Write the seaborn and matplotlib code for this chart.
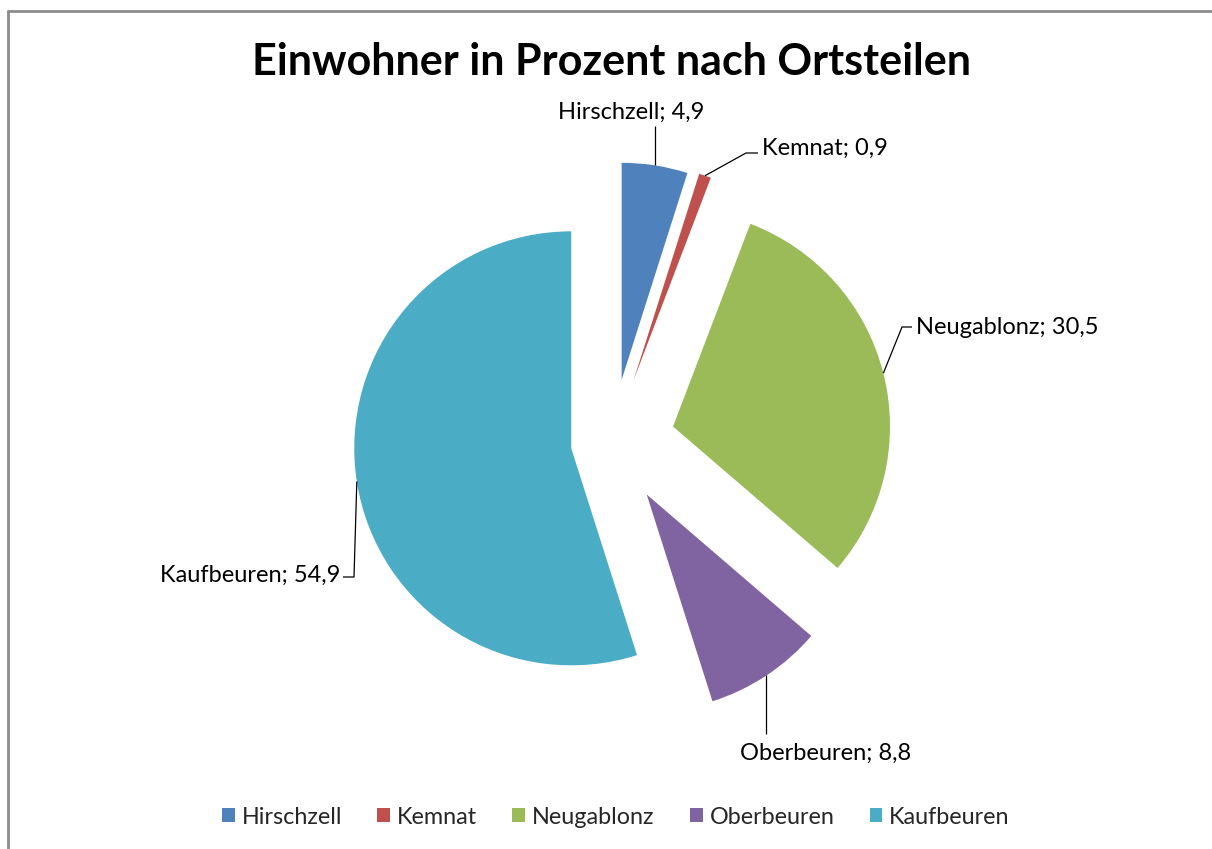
import numpy as np
import matplotlib
matplotlib.use('Agg')
import matplotlib.pyplot as plt
import seaborn as sns

# Daten: Einwohner in Prozent nach Ortsteilen
ortsteile = ['Hirschzell', 'Kemnat', 'Neugablonz', 'Oberbeuren', 'Kaufbeuren']
anteile = [4.9, 0.9, 30.5, 8.8, 54.9]
titel = 'Einwohner in Prozent nach Ortsteilen'

# Stil
farben = ['#4F81BD', '#C0504D', '#9BBB59', '#8064A2', '#4BACC6']
explode_anteil = [0.29, 0.30, 0.29, 0.29, 0.19]   # relativ zum Radius

sns.set_theme(style='white')
plt.rcParams['font.family'] = ['Lato', 'DejaVu Sans']

W, H = 1212, 849
R = 217


def P(x, y):
    # Pixelkoordinaten (y nach unten) -> Datenkoordinaten
    return (x, H - y)


fig = plt.figure(figsize=(W / 100, H / 100), dpi=100)
ax = fig.add_axes([0, 0, 1, 1])

wedges, _ = ax.pie(
    anteile,
    colors=farben,
    explode=[e * R for e in explode_anteil],
    startangle=90,
    counterclock=False,
    radius=R,
    center=P(612, 442),
    wedgeprops=dict(linewidth=0),
)
ax.set_xlim(0, W)
ax.set_ylim(0, H)
ax.set_aspect('equal')
ax.axis('off')

# Datenbeschriftungen mit Fuehrungslinien
label_pos = {
    'Hirschzell': dict(xy=(631, 119), ha='center', pfad=[('a', 126)]),
    'Kemnat': dict(xy=(762, 155), ha='left', pfad=[(746, 153), (758, 153)]),
    'Neugablonz': dict(xy=(916, 334), ha='left', pfad=[(902, 327), (912, 327)]),
    'Oberbeuren': dict(xy=(826, 760), ha='center', pfad=[('a', 734)]),
    'Kaufbeuren': dict(xy=(340, 582), ha='right', pfad=[(354, 577), (343, 577)]),
}

for w, name, wert in zip(wedges, ortsteile, anteile):
    thm = np.deg2rad((w.theta1 + w.theta2) / 2)
    ax_x = w.center[0] + w.r * np.cos(thm)
    ax_y = w.center[1] + w.r * np.sin(thm)
    spec = label_pos[name]
    xs, ys = [ax_x], [ax_y]
    for px_, py_ in spec['pfad']:
        if px_ == 'a':
            px_ = ax_x
        xs.append(px_)
        ys.append(H - py_)
    ax.plot(xs, ys, color='black', lw=0.9, solid_capstyle='butt')
    txt = f'{name}; {wert:.1f}'.replace('.', ',')
    ax.text(*P(*spec['xy']), txt, ha=spec['ha'], va='baseline',
            fontsize=17, color='black')

# Titel
ax.text(*P(612, 75), titel, ha='center', va='baseline',
        fontsize=31, fontweight='bold', color='black')

# Legende
ax.legend(wedges, ortsteile, loc='center', ncol=5, frameon=False,
          bbox_to_anchor=(616 / W, 1 - 817 / H), fontsize=16.8,
          handlelength=0.55, handleheight=0.55, handletextpad=0.3,
          columnspacing=1.5)

# Rahmen (oben und links)
ax.plot([8, W], [H - 11, H - 11], color='#8c8c8c', lw=2, clip_on=False)
ax.plot([8, 8], [H - 11, 0], color='#8c8c8c', lw=2, clip_on=False)

fig.savefig('out.png', dpi=100)
